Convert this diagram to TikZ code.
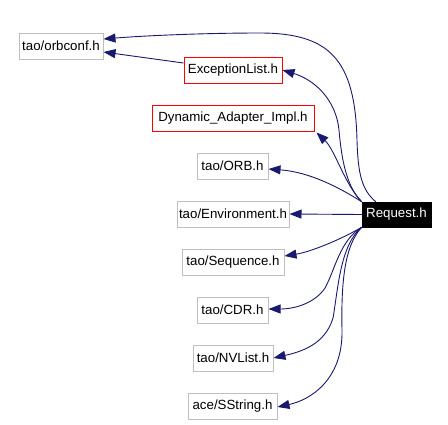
\documentclass[tikz,border=0pt]{standalone}
\usepackage{fontspec}
\setmainfont{Liberation Sans}
\usetikzlibrary{arrows.meta,calc}
\definecolor{edgec}{HTML}{191970}
\definecolor{boxgray}{HTML}{BFBFBF}
\begin{document}
\begin{tikzpicture}[x=1pt,y=-1pt,
  file/.style={draw=boxgray,line width=1pt,fill=white,minimum height=26pt,inner sep=0pt,font=\fontsize{13.3}{16}\selectfont},
  redfile/.style={file,draw=red},
  cur/.style={draw=black,fill=black,text=white,minimum height=25pt,inner sep=0pt,font=\fontsize{13.3}{16}\selectfont},
  dep/.style={draw=edgec,line width=0.9pt,-{Triangle[length=12pt,width=9pt]}}]
\useasboundingbox (0,0) rectangle (448,424);
\node[file,minimum width=84pt] (orbconf) at (61,46) {tao/orbconf.h};
\node[redfile,minimum width=98pt] (exc) at (233,70) {ExceptionList.h};
\node[redfile,minimum width=162pt] (dyn) at (233,118) {Dynamic\_Adapter\_Impl.h};
\node[file,minimum width=71pt] (orb) at (232.5,166) {tao/ORB.h};
\node[file,minimum width=112pt] (env) at (233,214) {tao/Environment.h};
\node[cur,minimum width=69pt] (req) at (396.5,214.5) {Request.h};
\node[file,minimum width=102pt] (seq) at (233,262) {tao/Sequence.h};
\node[file,minimum width=71pt] (cdr) at (232.5,310) {tao/CDR.h};
\node[file,minimum width=80pt] (nvl) at (233,358) {tao/NVList.h};
\node[file,minimum width=89pt] (sstr) at (232.5,406) {ace/SString.h};
% edges
\draw[dep] ($(req.north west)+(14,0)$) .. controls (362,190) and (358,175) .. (357,140)
  .. controls (355,60) and (330,33) .. (260,33) .. controls (200,33) and (140,36) .. ($(orbconf.east)+(0,-7)$);
\draw[dep] ($(exc.west)+(0,-7)$) -- ($(orbconf.east)+(0,6)$);
\draw[dep] (req.north west) .. controls (348,188) and (342,165) .. (339,130)
  .. controls (336,100) and (315,80) .. (exc.east);
\draw[dep] (req.north west) .. controls (345,185) and (335,150) .. ($(dyn.south east)+(2,1)$);
\draw[dep] (req.north west) .. controls (340,188) and (310,172) .. ($(orb.east)+(0,3)$);
\draw[dep] (req.west) -- (env.east);
\draw[dep] (req.south west) .. controls (340,240) and (310,252) .. ($(seq.east)+(0,-6)$);
\draw[dep] (req.south west) .. controls (340,240) and (335,270) .. (325,288)
  .. controls (315,303) and (295,309) .. ($(cdr.east)+(0,-1)$);
\draw[dep] (req.south west) .. controls (340,245) and (338,290) .. (333,318)
  .. controls (325,345) and (300,352) .. (nvl.east);
\draw[dep] (req.south west) .. controls (345,245) and (341,280) .. (342,330)
  .. controls (343,380) and (310,400) .. ($(sstr.east)+(0,1)$);
\end{tikzpicture}
\end{document}
